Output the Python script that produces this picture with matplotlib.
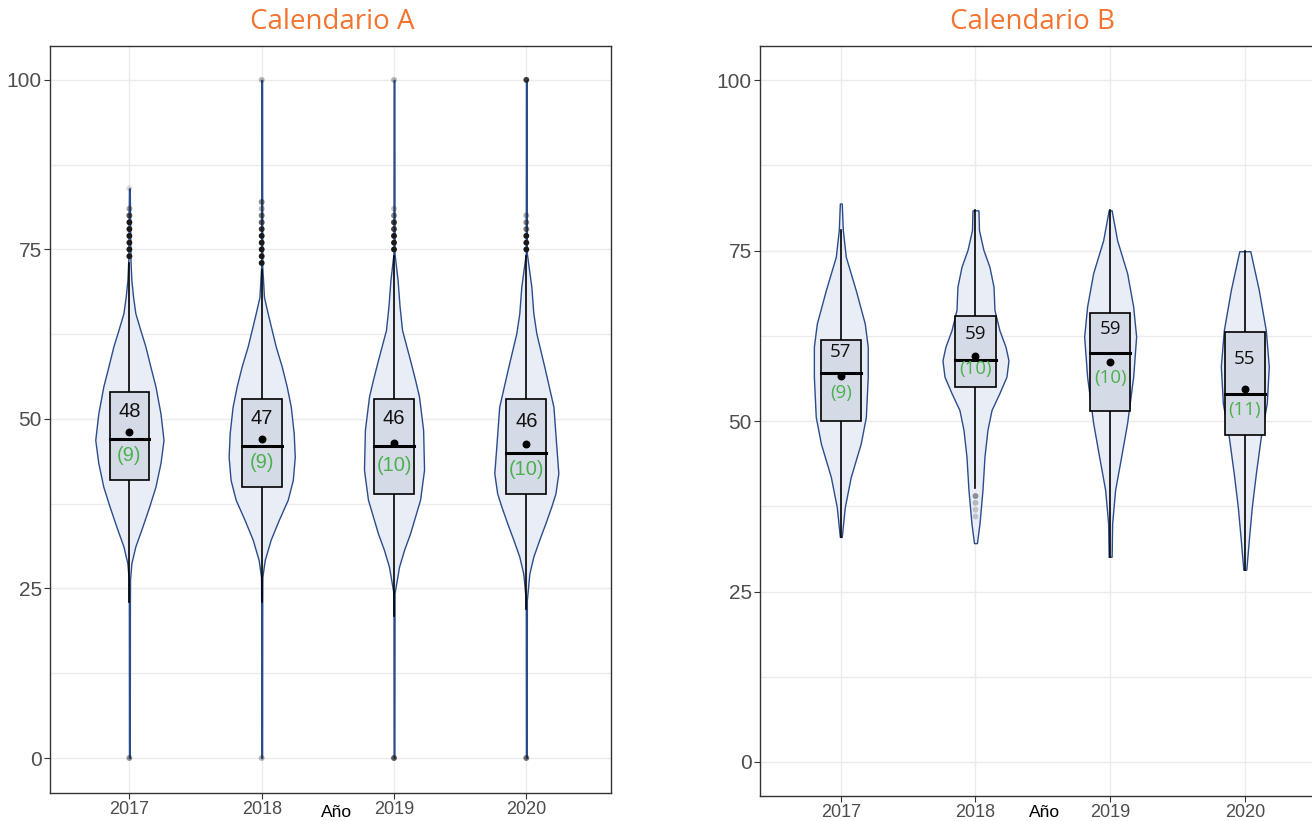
import numpy as np
from matplotlib import pyplot as plt
from matplotlib.patches import Rectangle

years = ['2017', '2018', '2019', '2020']

# Calendario A: box statistics
a_q1 = [41, 40, 39, 39]
a_med = [47, 46, 46, 45]
a_q3 = [54, 53, 53, 53]
a_mean = [48.1, 47.0, 46.4, 46.3]
a_wlo = [23, 23, 21, 22]
a_whi = [73, 72, 74, 74]
a_lab = ['48', '47', '46', '46']
a_sd = ['(9)', '(9)', '(10)', '(10)']

# Calendario A: violin outlines (value, half width as fraction of category step)
a_vals = [
    [0, 23, 26.3, 28.7, 31.2, 34.1, 37.1, 40.0, 43.5, 46.9, 50.8, 54.8, 57.7, 60.7, 63.1, 65.6, 68.0, 70.5, 73.5, 84],
    [0, 23, 26.7, 29.2, 32.2, 35.1, 38.1, 41.0, 44.4, 47.9, 51.8, 54.8, 57.7, 60.7, 63.1, 65.6, 68.0, 70.5, 72.4, 100],
    [0, 21, 24.3, 28.2, 30.7, 33.1, 35.6, 38.1, 42.5, 48.4, 53.3, 55.8, 58.7, 63.1, 66.6, 70.5, 74.4, 100],
    [0, 22, 23.3, 27.2, 29.7, 32.2, 34.6, 37.1, 39.0, 42.0, 45.9, 51.8, 57.7, 62.6, 65.6, 69.5, 74.4, 100],
]
a_hw = [
    [0.003, 0.004, 0.005, 0.015, 0.045, 0.098, 0.150, 0.197, 0.235, 0.258, 0.235, 0.197, 0.159, 0.121, 0.083, 0.045, 0.028, 0.015, 0.008, 0.003],
    [0.003, 0.004, 0.005, 0.023, 0.068, 0.129, 0.197, 0.235, 0.250, 0.242, 0.220, 0.189, 0.152, 0.106, 0.076, 0.045, 0.017, 0.010, 0.004, 0.003],
    [0.003, 0.004, 0.004, 0.038, 0.076, 0.121, 0.159, 0.197, 0.227, 0.220, 0.189, 0.159, 0.121, 0.061, 0.042, 0.027, 0.004, 0.003],
    [0.003, 0.004, 0.004, 0.023, 0.053, 0.098, 0.144, 0.189, 0.220, 0.242, 0.227, 0.205, 0.136, 0.076, 0.053, 0.038, 0.004, 0.003],
]
a_out = [
    [0, 74, 75, 76, 77, 78, 79, 80, 81, 84],
    [0, 73, 74, 75, 76, 77, 78, 79, 80, 81, 82, 100],
    [0, 75, 76, 77, 78, 79, 80, 81, 100],
    [0, 75, 76, 77, 78, 79, 80, 100],
]
a_out_w = [
    [0.45, 1, 1, 1, 1, 1, 1, 0.75, 0.4, 0.15],
    [0.3, 1, 1, 1, 1, 1, 0.9, 0.7, 0.6, 0.35, 0.5, 0.3],
    [0.7, 1, 1, 1, 0.8, 0.85, 0.5, 0.25, 0.3],
    [0.6, 1, 1, 1, 0.6, 0.5, 0.35, 0.85],
]

# Calendario B
b_q1 = [50.0, 55.0, 51.5, 48.0]
b_med = [57.0, 58.9, 60.0, 54.0]
b_q3 = [61.9, 65.4, 65.9, 63.0]
b_mean = [56.6, 59.5, 58.7, 54.7]
b_wlo = [33, 40.2, 30.1, 28.2]
b_whi = [78, 80.9, 80.9, 74.9]
b_lab = ['57', '59', '59', '55']
b_sd = ['(9)', '(10)', '(10)', '(11)']
b_vals = [
    [33.0, 37.4, 41.8, 46.7, 50.6, 56.5, 60.9, 64.3, 69.2, 74.1, 78.0, 81.9],
    [32.1, 35.0, 39.9, 44.8, 48.7, 51.6, 54.1, 56.5, 58.9, 60.9, 63.3, 66.3, 69.7, 72.6, 75.1, 78.0, 80.9],
    [30.1, 35.0, 39.9, 44.8, 49.7, 56.5, 62.4, 66.8, 71.7, 76.5, 80.9],
    [28.2, 32.6, 37.4, 42.3, 47.7, 52.6, 58.0, 63.3, 69.2, 74.9],
]
b_hw = [
    [0.007, 0.030, 0.074, 0.148, 0.186, 0.200, 0.200, 0.178, 0.111, 0.037, 0.015, 0.007],
    [0.011, 0.030, 0.052, 0.067, 0.089, 0.119, 0.178, 0.230, 0.245, 0.223, 0.178, 0.141, 0.134, 0.104, 0.059, 0.026, 0.022],
    [0.011, 0.015, 0.037, 0.082, 0.126, 0.171, 0.193, 0.171, 0.126, 0.052, 0.011],
    [0.011, 0.030, 0.052, 0.082, 0.119, 0.163, 0.178, 0.156, 0.104, 0.041],
]
b_out = [[], [36, 37, 38, 39], [], []]
b_out_w = [[], [0.2, 0.2, 0.25, 0.45], [], []]

def drawPanel(ax, vals, hw, q1, med, q3, mean, wlo, whi, out, outw, lab, sd, fam, labsize):
    for i in range(4):
        x = i + 1
        v = np.array(vals[i])
        w = np.array(hw[i])
        ax.fill_betweenx(v, x - w, x + w, facecolor='#e9edf5', edgecolor='#2b4c8c', lw=1.0, zorder=2)
        ax.plot([x, x], [wlo[i], q1[i]], color='black', lw=1.2, zorder=3)
        ax.plot([x, x], [q3[i], whi[i]], color='black', lw=1.2, zorder=3)
        ax.add_patch(Rectangle((x - 0.15, q1[i]), 0.3, q3[i] - q1[i], facecolor='#d5dbe6',
                               edgecolor='black', lw=1.2, zorder=4))
        ax.plot([x - 0.15, x + 0.15], [med[i], med[i]], color='black', lw=2.2, zorder=5)
        ax.scatter([x], [mean[i]], s=22, color='black', zorder=6)
        if len(out[i]) > 0:
            cols = [(0.1, 0.1, 0.1, a) for a in outw[i]]
            ax.scatter([x] * len(out[i]), out[i], s=18, color=cols, lw=0, zorder=6)
        ax.annotate(lab[i], (x, (q3[i] + med[i]) / 2), xytext=(0, 3), textcoords='offset points',
                    ha='center', va='center', fontsize=labsize, family=fam, color='#111111', zorder=7)
        ax.annotate(sd[i], (x, (med[i] + q1[i]) / 2), xytext=(0, 3), textcoords='offset points',
                    ha='center', va='center', fontsize=labsize, family=fam, color='#4caf50', zorder=7)

    ax.set_xlim(0.4, 4.64)
    ax.set_xticks([1, 2, 3, 4])
    ax.set_xticklabels(years, family='Liberation Sans', fontsize=13, color='#4d4d4d')
    ax.set_yticks([0, 25, 50, 75, 100])
    ax.set_yticks([12.5, 37.5, 62.5, 87.5], minor=True)
    ax.set_yticklabels(['0', '25', '50', '75', '100'], family='Liberation Sans', fontsize=15, color='#4d4d4d')
    ax.tick_params(axis='both', which='major', length=4, width=0.8, color='#333333', pad=2)
    ax.tick_params(axis='y', which='minor', length=0)
    ax.grid(True, which='both', color='#ebebeb', lw=1)
    ax.set_axisbelow(True)
    for s in ax.spines.values():
        s.set_color('#333333')
        s.set_linewidth(1)

fig = plt.figure(figsize=(13.12, 8.21), dpi=100)
axA = fig.add_axes([50 / 1312, 1 - 793 / 821, 561 / 1312, 747 / 821])
axB = fig.add_axes([760 / 1312, 1 - 796 / 821, 571 / 1312, 750 / 821])

drawPanel(axA, a_vals, a_hw, a_q1, a_med, a_q3, a_mean, a_wlo, a_whi, a_out, a_out_w, a_lab, a_sd, 'Liberation Sans', 14.5)
drawPanel(axB, b_vals, b_hw, b_q1, b_med, b_q3, b_mean, b_wlo, b_whi, b_out, b_out_w, b_lab, b_sd, 'Open Sans', 13.5)
axA.set_ylim(-5.16, 105.0)
axB.set_ylim(-4.99, 105.0)

fig.text(332 / 1312, 1 - 22 / 821, 'Calendario A', ha='center', va='center', fontsize=20, family='Open Sans', color='#f37430')
fig.text(1033 / 1312, 1 - 22 / 821, 'Calendario B', ha='center', va='center', fontsize=20, family='Open Sans', color='#f37430')
fig.text(337 / 1312, 1 - 812 / 821, 'Año', ha='center', va='center', fontsize=12.5, family='Liberation Sans', color='black')
fig.text(1045 / 1312, 1 - 812 / 821, 'Año', ha='center', va='center', fontsize=12.5, family='Liberation Sans', color='black')

fig.savefig('out.png', dpi=100)
